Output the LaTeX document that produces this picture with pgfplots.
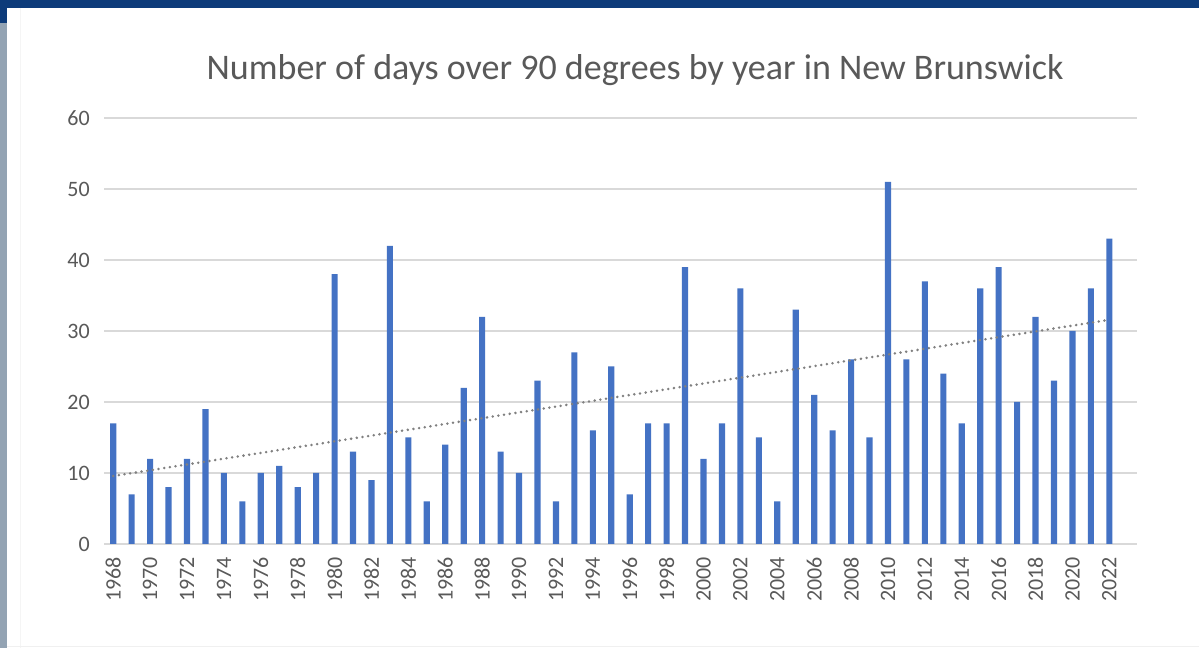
\documentclass[border=0pt]{standalone}
\usepackage{pgfplots}
\usepackage{pgfplotstable}
\pgfplotsset{compat=1.18}
\usepackage{fontspec}
\setmainfont{Carlito}
\definecolor{barblue}{HTML}{4472C4}
\definecolor{txtgray}{HTML}{595959}
\definecolor{gridgray}{HTML}{D9D9D9}
\definecolor{navy}{HTML}{0D3B7A}
\definecolor{sidegray}{HTML}{93A3B3}
\definecolor{trendgray}{HTML}{808080}

\pgfplotstableread{
year days
1968 17
1969 7
1970 12
1971 8
1972 12
1973 19
1974 10
1975 6
1976 10
1977 11
1978 8
1979 10
1980 38
1981 13
1982 9
1983 42
1984 15
1985 6
1986 14
1987 22
1988 32
1989 13
1990 10
1991 23
1992 6
1993 27
1994 16
1995 25
1996 7
1997 17
1998 17
1999 39
2000 12
2001 17
2002 36
2003 15
2004 6
2005 33
2006 21
2007 16
2008 26
2009 15
2010 51
2011 26
2012 37
2013 24
2014 17
2015 36
2016 39
2017 20
2018 32
2019 23
2020 30
2021 36
2022 43
}\data

\begin{document}
\begin{tikzpicture}
% background and frame
\fill[white] (0,0) rectangle (899.25pt,486pt);
\fill[navy] (0,480pt) rectangle (899.25pt,486pt);
\fill[sidegray] (0,0) rectangle (5.25pt,469pt);
\fill[navy] (0,469pt) rectangle (5.25pt,486pt);
\draw[gray!8, line width=0.6pt] (15pt,0) -- (15pt,480pt);
\draw[gray!12, line width=0.6pt] (5.25pt,1.2pt) -- (899.25pt,1.2pt);

\node[font=\fontsize{27}{32}\selectfont, text=txtgray] at (476.25pt,433.5pt)
  {Number of days over 90 degrees by year in New Brunswick};

\begin{axis}[
  at={(78pt,78pt)}, anchor=south west,
  scale only axis,
  width=774.75pt, height=319.5pt,
  xmin=1967.5, xmax=2023.5,
  ymin=0, ymax=60,
  ytick={0,10,...,60},
  xtick={1968,1970,...,2022},
  axis line style={draw=none},
  tick style={draw=none},
  ymajorgrids,
  major grid style={draw=gridgray, line width=0.8pt},
  /pgf/number format/assume math mode=true,
  /pgf/number format/1000 sep={},
  yticklabel style={font=\fontsize{16.5}{19}\selectfont, text=txtgray, inner sep=0pt},
  yticklabel shift=10.5pt,
  xticklabel style={font=\fontsize{16.5}{19}\selectfont, text=txtgray, inner sep=0pt, rotate=90, anchor=east},
  xticklabel shift=9.75pt,
  clip=false,
]
\addplot[ybar, bar width=4.6pt, fill=barblue, draw=none, bar shift=0pt] table[x=year, y=days] {\data};
\addplot[trendgray, line width=2.1pt, line cap=round, dash pattern=on 0pt off 4.3pt, mark=none]
  table[x=year, y={create col/linear regression={y=days}}] {\data};
\end{axis}
\pgfresetboundingbox
\useasboundingbox (0,0) rectangle (899.25pt,486pt);
\end{tikzpicture}
\end{document}
